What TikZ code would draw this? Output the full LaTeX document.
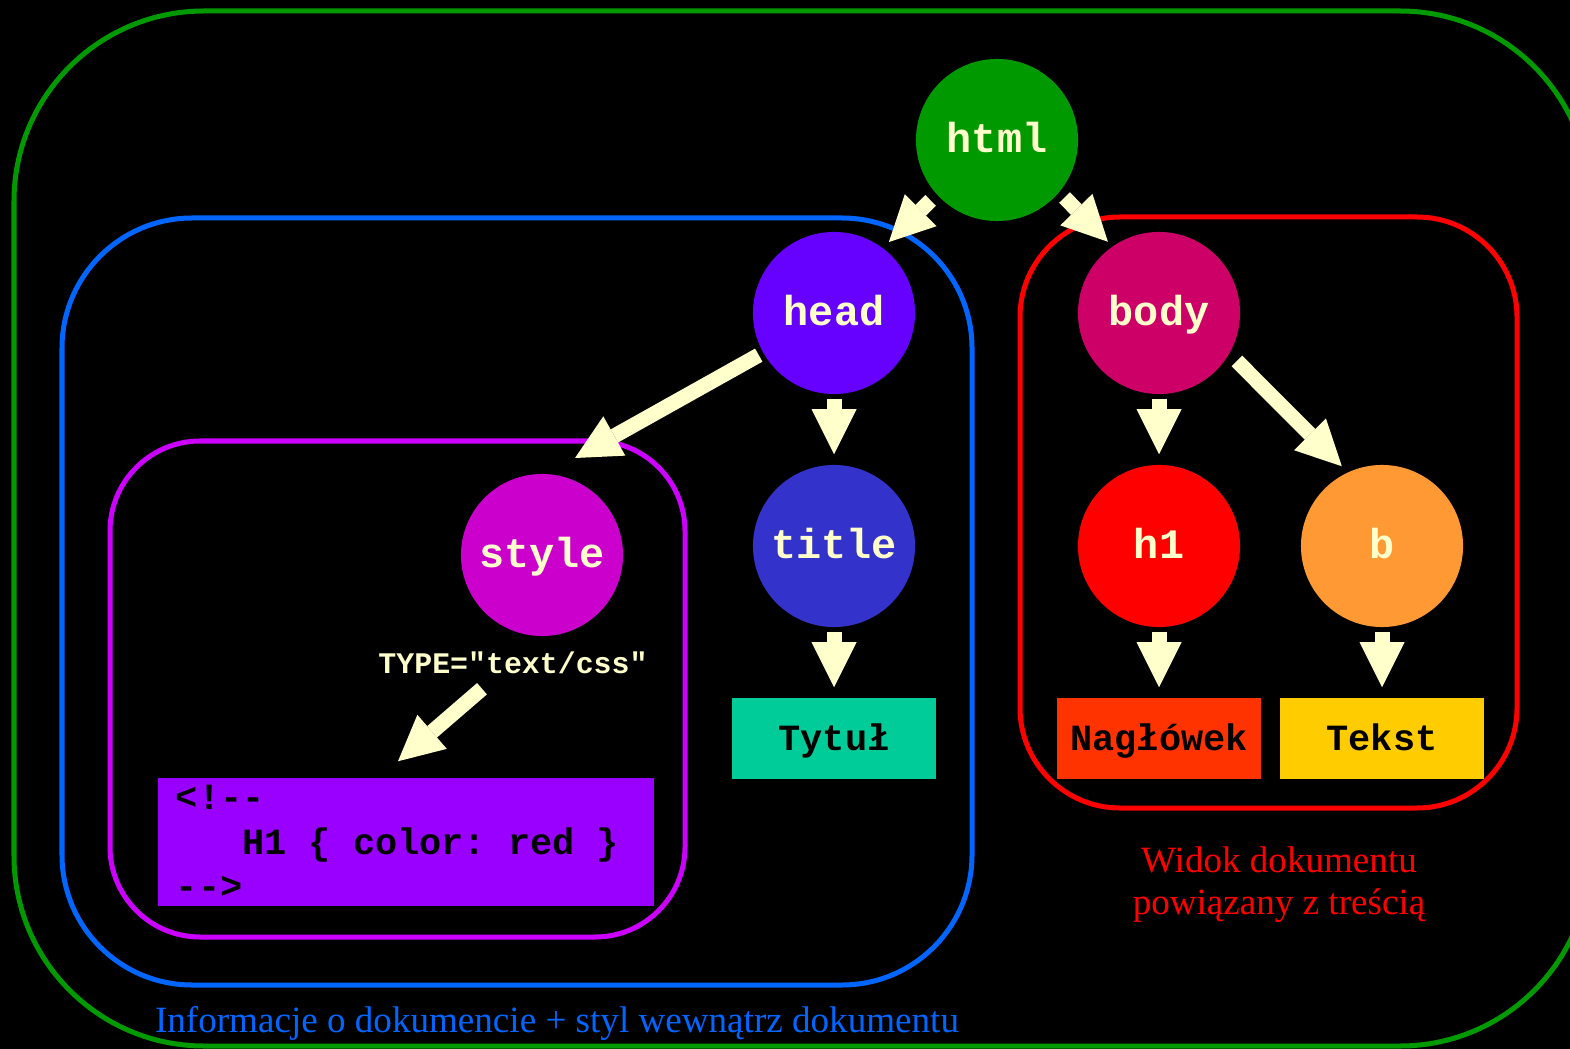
\documentclass[tikz,border=0pt]{standalone}
\usepackage{fontspec}
\setmainfont{Liberation Serif}
\setmonofont{Liberation Mono}
\usetikzlibrary{arrows.meta}
\definecolor{cream}{HTML}{FFFFCC}
\definecolor{htmlgreen}{HTML}{009900}
\definecolor{headviolet}{HTML}{6600FF}
\definecolor{bodyred}{HTML}{CC0066}
\definecolor{stylepink}{HTML}{CC00CC}
\definecolor{titleblue}{HTML}{3333CC}
\definecolor{hred}{HTML}{FF0000}
\definecolor{borange}{HTML}{FF9933}
\definecolor{tytulgreen}{HTML}{00CC99}
\definecolor{naglred}{HTML}{FF3300}
\definecolor{tekstyellow}{HTML}{FFCC00}
\definecolor{cssviolet}{HTML}{9900FF}
\definecolor{zoneblue}{HTML}{0066FF}
\definecolor{zonepurple}{HTML}{CC00FF}
\newcommand{\msp}{\hspace*{0.6em}}

\begin{document}
\begin{tikzpicture}[x=0.01cm,y=-0.01cm,
  elem/.style={circle, fill=#1, minimum size=1.62cm, inner sep=0pt, text=cream, text height=0.25cm, text depth=0pt, font=\ttfamily\bfseries\fontsize{11.9}{14}\selectfont},
  leafbox/.style={rectangle, fill=#1, minimum width=2.04cm, minimum height=0.81cm, inner sep=0pt, text height=0.23cm, text depth=0pt, font=\ttfamily\bfseries\fontsize{10.5}{12.66}\selectfont},
  arr/.style={cream, line width=0.15cm, shorten <=0.045cm, shorten >=0.1cm, -{Triangle[width=0.45cm,length=0.45cm,line width=0pt]}},
  zone/.style={line width=0.05cm, rounded corners=#1}]
\path[use as bounding box] (0,0) rectangle (1570,1049);
\clip (0,0) rectangle (1570,1049);
\fill[black] (0,0) rectangle (1570,1049);

\draw[zone=1.9cm, htmlgreen] (14,11) rectangle (1590,1046);
\draw[zone=1.3cm, zoneblue] (62,218) rectangle (972,985);
\draw[zone=0.9cm, zonepurple] (110,441) rectangle (685,937);
\draw[zone=1.0cm, hred] (1020,217) rectangle (1517,808);

\node[elem=htmlgreen] (html) at (997,140) {html};
\node[elem=headviolet] (head) at (834,313) {head};
\node[elem=bodyred] (body) at (1159,313) {body};
\node[elem=stylepink] (style) at (542,555) {style};
\node[elem=titleblue] (title) at (834,546) {title};
\node[elem=hred] (h1) at (1159,546) {h1};
\node[elem=borange] (b) at (1382,546) {b};

\node[leafbox=tytulgreen] (tytul) at (834,738.5) {Tytuł};
\node[leafbox=naglred] (naglowek) at (1159,738.5) {Nagłówek};
\node[leafbox=tekstyellow] (tekst) at (1382,738.5) {Tekst};
\node[leafbox=cssviolet, minimum width=4.96cm, minimum height=1.28cm, text width=4.6cm, text height=, text depth=, align=left] (css) at (406,842)
  {<!-{}-\\\msp\msp\msp H1\msp\{\msp color:\msp red\msp\}\\-{}->};

\node[text=cream, font=\ttfamily\bfseries\fontsize{8.5}{10}\selectfont, anchor=base] (type) at (513,673) {TYPE="text/css"};

\coordinate (styletip) at (575,458);
\draw[arr, shorten <=0.08cm, shorten >=0.08cm] (html.222) -- (head.53);
\draw[arr, shorten <=0.07cm, shorten >=0.06cm] (html.320) -- (body.125);
\draw[arr, shorten >=0pt] (head) -- (styletip);
\draw[arr, shorten <=0.1cm, shorten >=0.08cm] (body.-30) -- (b.115);
\foreach \a/\b in {head/title, body/h1, title/tytul, h1/naglowek, b/tekst}
  \draw[arr] (\a) -- (\b);
\draw[arr, shorten <=0pt, shorten >=0pt] ([xshift=-0.31cm,yshift=-0.03cm]type.south) -- ([xshift=-0.08cm,yshift=0.16cm]css.north);

\node[text=zoneblue, font=\fontsize{10.55}{12.5}\selectfont, anchor=base] (infocap) at (557,1032)
  {Informacje o dokumencie + styl wewnątrz dokumentu};
\node[text=hred, align=center, font=\fontsize{10.55}{12}\selectfont] (viewcap) at (1279,885)
  {Widok dokumentu\\powiązany z treścią};
\end{tikzpicture}
\end{document}
